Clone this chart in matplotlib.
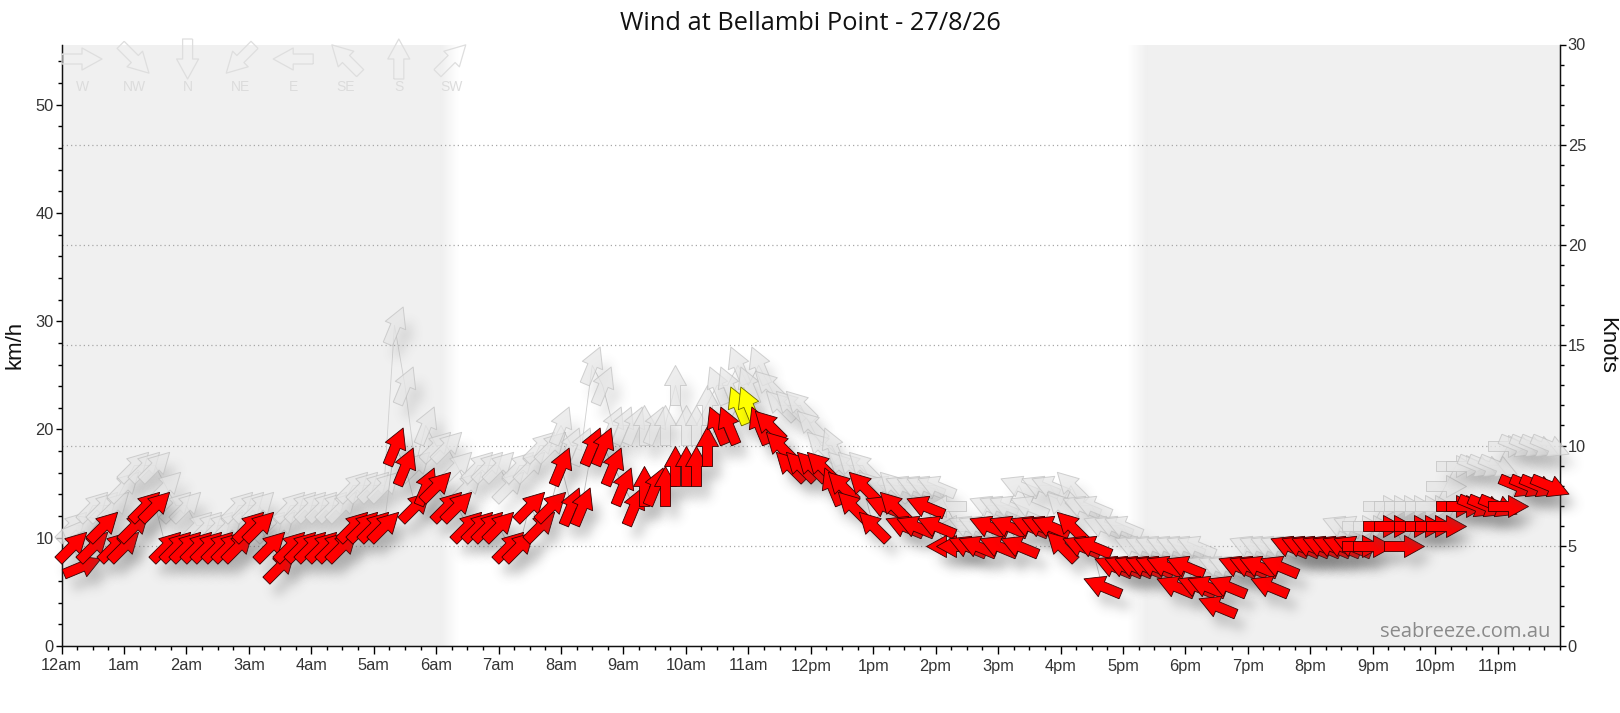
import numpy as np
import matplotlib
matplotlib.use("Agg")
import matplotlib.pyplot as plt
from matplotlib.ticker import MultipleLocator

title = "Wind at Bellambi Point - 27/8/26"
times_min = list(range(10, 1440, 10))
wind_kt = [5,4,5,6,5,5,6,7,7,
           5,5,5,5,5,5,5,5,6,6,5,4,5,5,5,5,5,5,6,6,6,6,
           10,9,7,8,8,7,7,6,6,6,6,5,5,7,6,7,9,7,7,10,10,9,8,7,8,8,8,9,9,9,10,
           11,11,12,12,11,11,10,9,9,9,9,8,8,7,8,6,7,7,6,6,7,6,5,5,5,5,6,5,6,5,6,6,6,5,6,5,5,
           3,4,4,4,4,4,4,3,4,3,3,2,3,4,4,4,3,4,5,5,5,5,5,5,5,
           5,5,6,6,5,6,6,6,6,7,7,7,7,7,7,8,8,8,8]
gust_kt = [6,6,7,7,7,8,9,9,9,
           8,7,7,6,6,6,6,7,7,7,6,6,7,7,7,7,7,7,8,8,8,8,
           16,13,9,11,10,10,9,8,9,9,9,8,9,9,10,10,11,10,10,14,13,11,11,11,11,11,11,13,11,11,12,
           13,13,14,13,14,13,12,12,12,11,10,10,9,9,9,8,8,8,8,8,8,8,7,6,6,6,7,7,7,8,7,8,8,7,8,7,7,
           6,6,6,5,5,5,5,5,5,5,4,4,4,4,5,5,5,5,5,5,5,5,5,6,6,
           6,6,7,7,7,7,7,7,8,9,9,9,9,9,10,10,10,10,10]
direction = ["SW","WSW","SW","SW","SW","SW","SW","SW","SW",
             "SW","SW","SW","SW","SW","SW","SW","SW","SW","SW","SW","SW","SW","SW","SW","SW","SW","SW","SW","SW","SW","SW",
             "SSW","SSW","SW","SSW","SW","SW","SW","SW","SW","SW","SW","SW","SW","SW","SW","SW","SSW","SSW","SSW","SSW","SSW","SSW","SSW","SSW","S","SSW","S","S","S","S","S",
             "SSE","SSE","SSE","SSE","SSE","SE","SE","SE","SE","SE","SE","SSE","SE","SE","SE","SE","ESE","SE","ESE","ESE","ESE","ESE","E","E","ESE","ESE","ESE","ESE","ESE","ESE","ESE","ESE","ESE","SE","SE","ESE","ESE",
             "ESE","ESE","ESE","ESE","ESE","ESE","ESE","ESE","ESE","ESE","ESE","ESE","ESE","ESE","ESE","ESE","ESE","ESE","ESE","ESE","ESE","ESE","ESE","ESE","ESE",
             "W","W","W","W","W","W","W","W","W","W","W","WNW","WNW","WNW","W","WNW","WNW","WNW","WNW"]
legend_dirs = ["W","NW","N","NE","E","SE","S","SW"]
hour_labels = ["12am"] + [f"{h}am" for h in range(1, 12)] + ["12pm"] + [f"{h}pm" for h in range(1, 12)]
night_spans = [(0, 6.06, 6.36), (24, 17.4, 17.08)]
bearing = dict(N=0, NNE=22.5, NE=45, ENE=67.5, E=90, ESE=112.5, SE=135, SSE=157.5,
               S=180, SSW=202.5, SW=225, WSW=247.5, W=270, WNW=292.5, NW=315, NNW=337.5)

W, H = 1620, 713
L, R, T, B = 61.5, 1560, 44.5, 646
plt.rcParams["font.family"] = ["Liberation Sans", "DejaVu Sans"]
fig = plt.figure(figsize=(W/100, H/100), dpi=100, facecolor="white")
ax = fig.add_axes([L/W, 1-B/H, (R-L)/W, (B-T)/H])
ax2 = ax.twinx()
ax.set_zorder(2)
ax2.set_zorder(1)
ax.patch.set_alpha(0)


def blur1d(a, sigma, axis):
    r = int(3*sigma)
    k = np.exp(-0.5*(np.arange(-r, r+1)/sigma)**2)
    k /= k.sum()
    return np.apply_along_axis(lambda m: np.convolve(m, k, mode="same"), axis, a)


def shadow_filter(alpha=0.3, sigma=5.5, dx=9, dy=13):
    # Quiver.draw and Collection.draw both run the filter, so only the outer pass acts.
    state = {"calls": 0}

    def f(im, dpi):
        state["calls"] += 1
        if state["calls"] % 2 == 1:
            return im, 0, 0
        pad = int(3*sigma) + max(dx, dy) + 2
        a = np.pad(im[..., 3], pad)
        a = blur1d(blur1d(a, sigma, 0), sigma, 1)
        a = np.roll(np.roll(a, dx, axis=1), dy, axis=0)
        out = np.zeros(a.shape + (4,))
        out[..., :3] = 0.33
        out[..., 3] = np.clip(a*alpha, 0, 1)
        return out, -pad, -pad
    return f


def uv(name):
    t = np.deg2rad(bearing[name] + 180)
    return np.sin(t)*40, np.cos(t)*40


ARROW = dict(units="dots", angles="uv", scale_units="dots", scale=1, pivot="mid", width=10,
             headwidth=2.2, headlength=2.0, headaxislength=2.0, minlength=0, clip_on=False)

# night shading
for edge, a, b in night_spans:
    ax2.axvspan(min(edge, a), max(edge, a), color="#f0f0f0", lw=0, zorder=0)
    grad = np.linspace(1, 0, 40).reshape(1, -1)
    ax2.imshow(np.dstack([np.full(grad.shape, 0.941)]*3 + [grad]), extent=(a, b, 0, 30*1.852),
               aspect="auto", zorder=0, interpolation="bilinear")

ax.set_xlim(0, 24)
ax.set_ylim(0, 30)
ax2.set_xlim(0, 24)
ax2.set_ylim(0, 30*1.852)

# gridlines on the knots scale
ax.yaxis.tick_right()
ax.yaxis.set_label_position("right")
ax.set_yticks(range(0, 31, 5))
ax.yaxis.set_minor_locator(MultipleLocator(1))
ax.grid(axis="y", which="major", color="#a8a8a8", lw=0.9, ls=(0, (1, 2.4)), zorder=1)
ax.set_axisbelow(True)
for gl in (ax.yaxis.get_gridlines()[0], ax.yaxis.get_gridlines()[-1]):
    gl.set_visible(False)

hours = [m/60 for m in times_min]
ax.plot(hours, gust_kt, color="#cfcfcf", lw=0.6, zorder=2)
ax.plot(hours, wind_kt, color="#bdbdbd", lw=0.6, zorder=5)

zo = 3.0
for h, g, d in zip(hours, gust_kt, direction):
    u, v = uv(d)
    q = ax.quiver([h], [g], [u], [v], color="k", zorder=zo, **ARROW)
    q.set_agg_filter(shadow_filter(alpha=0.17))
    ax.quiver([h], [g], [u], [v], facecolor="#e6e6e6", edgecolor="#c0c0c0", linewidth=0.7,
              alpha=0.72, zorder=zo+0.0001, **ARROW)
    zo += 0.001
max_wind = max(wind_kt)
zo = 6.0
for h, s, d in zip(hours, wind_kt, direction):
    u, v = uv(d)
    q = ax.quiver([h], [s], [u], [v], color="k", zorder=zo, **ARROW)
    q.set_agg_filter(shadow_filter(alpha=0.3))
    fc = "#ffff00" if s == max_wind else "#ff0000"
    ec = "#6b6b00" if s == max_wind else "#3a0000"
    ax.quiver([h], [s], [u], [v], facecolor=fc, edgecolor=ec, linewidth=0.6, zorder=zo+0.0001, **ARROW)
    zo += 0.001

# direction key
for i, name in enumerate(legend_dirs):
    cx = (82 + i*52.8 - L)/(R-L)
    cy = (B - 59)/(B-T)
    u, v = uv(name)
    ax.quiver([cx], [cy], [u], [v], transform=ax.transAxes, facecolor="none", edgecolor="#dedede",
              linewidth=0.9, zorder=2.5, **ARROW)
    ax.text(cx, (B-87)/(B-T), name, transform=ax.transAxes, ha="center", va="center",
            fontsize=10, color="#dcdcdc", zorder=2.5)

# axes
ax.spines["top"].set_visible(False)
ax2.spines["top"].set_visible(False)
for s in ("left", "right", "bottom"):
    ax.spines[s].set_linewidth(1.0)
    ax.spines[s].set_color("#111111")
    ax.spines[s].set_zorder(2.2)
ax.set_xticks(range(24))
ax.set_xticklabels(hour_labels)
ax.xaxis.set_minor_locator(MultipleLocator(0.25))
ax.tick_params(axis="x", which="major", length=6, width=1, labelsize=11.8, labelcolor="#333333", pad=3)
ax.tick_params(axis="x", which="minor", length=3, width=1)
ax.tick_params(axis="y", which="major", length=4, width=1, labelsize=11.8, labelcolor="#333333", pad=1.5)
ax.tick_params(axis="y", which="minor", length=3, width=1)
ax.set_ylabel("Knots", fontsize=16, rotation=270, color="#111111", va="center", ha="center")
ax.yaxis.set_label_coords((1607-L)/(R-L), 0.5)

ax2.yaxis.tick_left()
ax2.yaxis.set_label_position("left")
ax2.set_yticks(range(0, 51, 10))
ax2.yaxis.set_minor_locator(MultipleLocator(2))
ax2.tick_params(axis="y", which="major", length=4, width=1, labelsize=11.8, labelcolor="#333333", pad=1.5)
ax2.tick_params(axis="y", which="minor", length=3, width=1)
ax2.set_ylabel("km/h", fontsize=16, color="#111111", va="center", ha="center")
ax2.yaxis.set_label_coords((14.5-L)/(R-L), 0.5)

fig.text((1560-10)/W, 1-632/H, "seabreeze.com.au", ha="right", va="center", fontsize=14.5,
         color="#8a8a8a", family=["Open Sans", "DejaVu Sans"], zorder=20)
fig.text(0.5, 1-24/H, title, ha="center", va="center", fontsize=18.3, color="#111111",
         family=["Open Sans", "DejaVu Sans"])
fig.savefig("out.png", dpi=100)
